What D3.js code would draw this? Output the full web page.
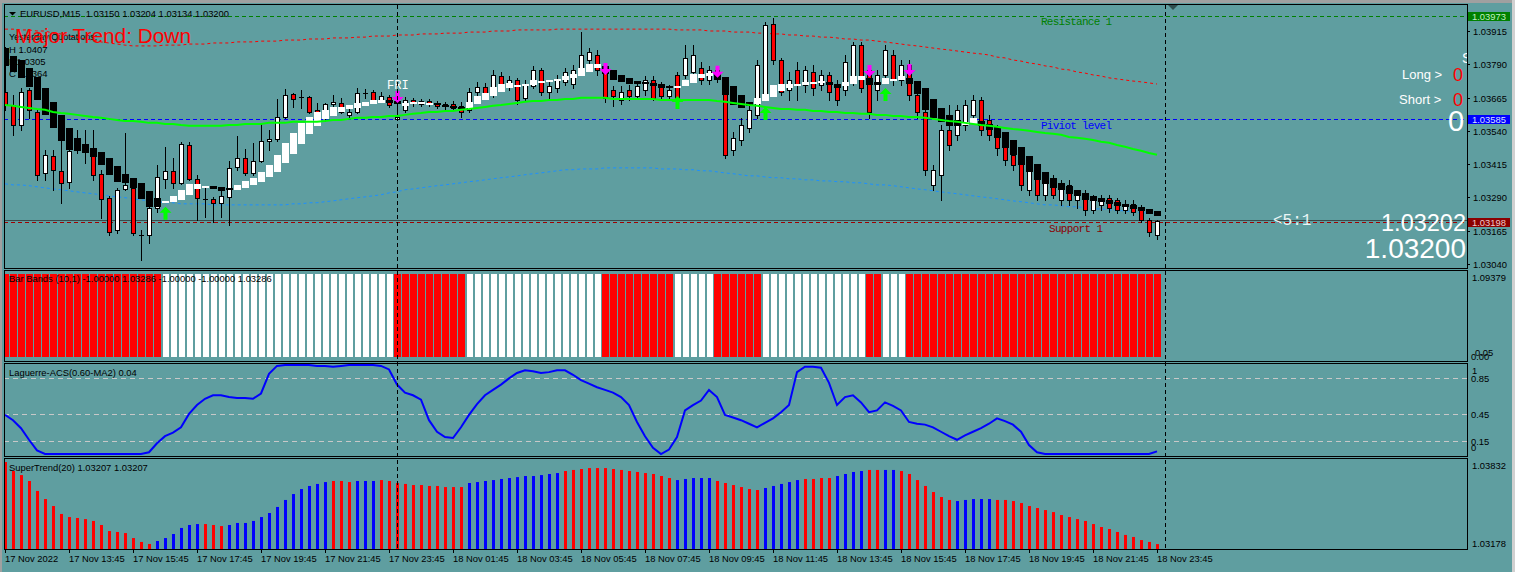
<!DOCTYPE html>
<html><head><meta charset="utf-8">
<script src="https://cdnjs.cloudflare.com/ajax/libs/d3/7.8.5/d3.min.js"></script>
<style>body{margin:0;background:#5F9EA0;overflow:hidden}svg{display:block}text{white-space:pre}</style>
</head><body><svg id="c" width="1515" height="572"></svg>
<script>
// ---------------- DATA ----------------
const timeLabels = ["17 Nov 2022","17 Nov 13:45","17 Nov 15:45","17 Nov 17:45","17 Nov 19:45","17 Nov 21:45","17 Nov 23:45","18 Nov 01:45","18 Nov 03:45","18 Nov 05:45","18 Nov 07:45","18 Nov 09:45","18 Nov 11:45","18 Nov 13:45","18 Nov 15:45","18 Nov 17:45","18 Nov 19:45","18 Nov 21:45","18 Nov 23:45"];
const timeLabelIdx = [0,8,16,24,32,40,48,56,64,72,80,88,96,104,112,120,128,136,144];
const priceTicks = [1.03915,1.03790,1.03665,1.03540,1.03415,1.03290,1.03165,1.03040];

const opens = [1.03686,1.03637,1.03562,1.03694,1.03611,1.03382,1.03446,1.03390,1.03349,1.03469,
1.03484,1.03446,1.03379,1.03289,1.03169,1.03322,1.03326,1.03150,1.03150,1.03251,
1.03360,1.03390,1.03345,1.03487,1.03360,1.03285,1.03285,1.03270,1.03292,1.03405,
1.03439,1.03382,1.03427,1.03502,1.03510,1.03592,1.03679,1.03667,1.03667,1.03619,
1.03592,1.03641,1.03645,1.03600,1.03611,1.03682,1.03686,1.03656,1.03667,1.03585,
1.03619,1.03656,1.03641,1.03652,1.03641,1.03634,1.03641,1.03634,1.03619,1.03686,
1.03705,1.03675,1.03746,1.03712,1.03731,1.03664,1.03709,1.03769,1.03686,1.03701,
1.03724,1.03716,1.03761,1.03806,1.03825,1.03769,1.03694,1.03656,1.03694,1.03671,
1.03694,1.03731,1.03709,1.03671,1.03750,1.03750,1.03761,1.03776,1.03731,1.03769,
1.03724,1.03469,1.03506,1.03551,1.03600,1.03675,1.03941,1.03806,1.03694,1.03769,
1.03712,1.03761,1.03712,1.03750,1.03712,1.03694,1.03731,1.03862,1.03769,1.03694,
1.03750,1.03825,1.03731,1.03787,1.03675,1.03611,1.03337,1.03375,1.03544,1.03525,
1.03562,1.03600,1.03656,1.03581,1.03544,1.03487,1.03450,1.03431,1.03319,1.03394,
1.03300,1.03356,1.03281,1.03337,1.03281,1.03300,1.03244,1.03262,1.03289,1.03281,
1.03244,1.03266,1.03251,1.03206,1.03150];
const highs = [1.03855,1.03675,1.03701,1.03701,1.03619,1.03469,1.03469,1.03600,1.03544,1.03544,
1.03544,1.03544,1.03394,1.03296,1.03326,1.03532,1.03364,1.03169,1.03270,1.03412,
1.03480,1.03439,1.03499,1.03499,1.03375,1.03334,1.03292,1.03319,1.03427,1.03521,
1.03472,1.03495,1.03570,1.03544,1.03660,1.03697,1.03682,1.03694,1.03671,1.03645,
1.03645,1.03675,1.03664,1.03630,1.03701,1.03697,1.03694,1.03686,1.03675,1.03630,
1.03667,1.03664,1.03660,1.03660,1.03652,1.03649,1.03652,1.03649,1.03701,1.03724,
1.03720,1.03769,1.03761,1.03746,1.03739,1.03731,1.03784,1.03776,1.03724,1.03750,
1.03776,1.03787,1.03911,1.03851,1.03844,1.03787,1.03709,1.03709,1.03712,1.03724,
1.03746,1.03746,1.03724,1.03712,1.03761,1.03862,1.03862,1.03799,1.03784,1.03784,
1.03731,1.03536,1.03589,1.03641,1.03806,1.03949,1.03964,1.03814,1.03761,1.03799,
1.03784,1.03787,1.03769,1.03761,1.03731,1.03825,1.03874,1.03874,1.03787,1.03769,
1.03862,1.03844,1.03806,1.03806,1.03694,1.03637,1.03412,1.03562,1.03637,1.03637,
1.03656,1.03675,1.03667,1.03600,1.03562,1.03506,1.03469,1.03450,1.03431,1.03412,
1.03375,1.03375,1.03356,1.03356,1.03311,1.03319,1.03300,1.03300,1.03300,1.03289,
1.03281,1.03281,1.03262,1.03214,1.03204];
const lows = [1.03619,1.03525,1.03544,1.03589,1.03356,1.03356,1.03319,1.03270,1.03326,1.03457,
1.03420,1.03356,1.03214,1.03150,1.03157,1.03319,1.03150,1.03056,1.03120,1.03236,
1.03326,1.03326,1.03341,1.03356,1.03206,1.03217,1.03199,1.03217,1.03187,1.03394,
1.03375,1.03375,1.03424,1.03469,1.03502,1.03589,1.03630,1.03626,1.03607,1.03600,
1.03577,1.03634,1.03607,1.03589,1.03607,1.03664,1.03645,1.03649,1.03630,1.03581,
1.03611,1.03634,1.03634,1.03634,1.03626,1.03619,1.03619,1.03592,1.03611,1.03671,
1.03664,1.03667,1.03694,1.03694,1.03641,1.03656,1.03701,1.03675,1.03656,1.03686,
1.03712,1.03701,1.03750,1.03791,1.03750,1.03649,1.03634,1.03641,1.03656,1.03664,
1.03675,1.03656,1.03664,1.03656,1.03645,1.03739,1.03750,1.03716,1.03716,1.03724,
1.03439,1.03450,1.03487,1.03536,1.03589,1.03656,1.03791,1.03675,1.03656,1.03656,
1.03686,1.03675,1.03694,1.03656,1.03637,1.03675,1.03712,1.03686,1.03589,1.03656,
1.03731,1.03712,1.03712,1.03656,1.03589,1.03375,1.03319,1.03281,1.03469,1.03506,
1.03544,1.03581,1.03525,1.03506,1.03450,1.03412,1.03394,1.03319,1.03300,1.03281,
1.03281,1.03289,1.03262,1.03262,1.03251,1.03225,1.03232,1.03244,1.03236,1.03232,
1.03232,1.03225,1.03199,1.03146,1.03134];
const closes = [1.03637,1.03562,1.03686,1.03619,1.03375,1.03450,1.03394,1.03345,1.03465,1.03487,
1.03461,1.03375,1.03285,1.03161,1.03319,1.03337,1.03157,1.03150,1.03251,1.03367,
1.03390,1.03345,1.03491,1.03360,1.03289,1.03285,1.03270,1.03296,1.03401,1.03439,
1.03382,1.03427,1.03502,1.03510,1.03592,1.03675,1.03660,1.03667,1.03611,1.03611,
1.03641,1.03649,1.03611,1.03611,1.03682,1.03682,1.03656,1.03671,1.03637,1.03592,
1.03656,1.03645,1.03652,1.03641,1.03634,1.03641,1.03626,1.03611,1.03686,1.03705,
1.03675,1.03750,1.03712,1.03731,1.03656,1.03712,1.03769,1.03686,1.03709,1.03731,
1.03761,1.03769,1.03825,1.03836,1.03769,1.03664,1.03671,1.03686,1.03671,1.03709,
1.03731,1.03664,1.03671,1.03694,1.03656,1.03814,1.03825,1.03731,1.03769,1.03739,
1.03450,1.03514,1.03562,1.03619,1.03787,1.03937,1.03806,1.03686,1.03731,1.03712,
1.03769,1.03701,1.03750,1.03686,1.03656,1.03799,1.03862,1.03701,1.03611,1.03750,
1.03844,1.03731,1.03787,1.03675,1.03611,1.03394,1.03394,1.03544,1.03487,1.03619,
1.03637,1.03656,1.03544,1.03525,1.03476,1.03431,1.03412,1.03337,1.03412,1.03300,
1.03356,1.03300,1.03337,1.03281,1.03300,1.03244,1.03281,1.03289,1.03251,1.03244,
1.03266,1.03236,1.03206,1.03161,1.03200];

const haOpen = [1.03851,1.03821,1.03806,1.03776,1.03742,1.03701,1.03649,1.03600,1.03551,1.03514,
1.03491,1.03476,1.03461,1.03439,1.03409,1.03379,1.03364,1.03345,1.03315,1.03289,
1.03270,1.03274,1.03281,1.03300,1.03322,1.03326,1.03334,1.03330,1.03326,1.03319,
1.03326,1.03337,1.03349,1.03367,1.03386,1.03420,1.03454,1.03491,1.03529,1.03559,
1.03585,1.03596,1.03611,1.03622,1.03626,1.03634,1.03641,1.03645,1.03656,1.03652,
1.03634,1.03641,1.03641,1.03641,1.03645,1.03637,1.03634,1.03630,1.03626,1.03641,
1.03656,1.03671,1.03686,1.03701,1.03709,1.03709,1.03712,1.03720,1.03724,1.03727,
1.03731,1.03739,1.03746,1.03761,1.03776,1.03784,1.03769,1.03750,1.03739,1.03727,
1.03724,1.03720,1.03716,1.03709,1.03705,1.03709,1.03720,1.03739,1.03746,1.03754,
1.03742,1.03709,1.03675,1.03649,1.03641,1.03652,1.03667,1.03690,1.03701,1.03709,
1.03712,1.03716,1.03720,1.03724,1.03716,1.03709,1.03716,1.03731,1.03739,1.03724,
1.03716,1.03727,1.03731,1.03739,1.03727,1.03701,1.03660,1.03626,1.03600,1.03581,
1.03562,1.03566,1.03577,1.03566,1.03555,1.03536,1.03506,1.03480,1.03446,1.03416,
1.03386,1.03364,1.03345,1.03334,1.03319,1.03307,1.03296,1.03289,1.03281,1.03274,
1.03266,1.03262,1.03255,1.03247,1.03240];
const haClose = [1.03784,1.03761,1.03739,1.03705,1.03656,1.03600,1.03551,1.03502,1.03469,1.03465,
1.03457,1.03442,1.03412,1.03375,1.03349,1.03345,1.03326,1.03285,1.03255,1.03255,
1.03277,1.03296,1.03319,1.03341,1.03341,1.03334,1.03322,1.03315,1.03322,1.03337,
1.03352,1.03364,1.03386,1.03412,1.03450,1.03495,1.03532,1.03570,1.03592,1.03611,
1.03619,1.03630,1.03630,1.03637,1.03645,1.03649,1.03656,1.03656,1.03645,1.03641,
1.03645,1.03649,1.03649,1.03645,1.03637,1.03634,1.03630,1.03622,1.03649,1.03671,
1.03682,1.03705,1.03716,1.03720,1.03712,1.03716,1.03731,1.03727,1.03731,1.03735,
1.03746,1.03754,1.03776,1.03791,1.03791,1.03754,1.03731,1.03724,1.03716,1.03716,
1.03716,1.03709,1.03701,1.03701,1.03709,1.03731,1.03754,1.03754,1.03757,1.03731,
1.03675,1.03637,1.03626,1.03634,1.03664,1.03679,1.03712,1.03716,1.03716,1.03716,
1.03724,1.03724,1.03727,1.03712,1.03701,1.03724,1.03746,1.03746,1.03712,1.03712,
1.03739,1.03735,1.03746,1.03716,1.03679,1.03619,1.03589,1.03574,1.03559,1.03559,
1.03574,1.03589,1.03559,1.03544,1.03514,1.03476,1.03450,1.03412,1.03386,1.03356,
1.03341,1.03326,1.03319,1.03304,1.03296,1.03281,1.03277,1.03274,1.03266,1.03259,
1.03255,1.03247,1.03240,1.03229,1.03221];

const maLine = [1.03637,1.03634,1.03630,1.03626,1.03622,1.03619,1.03611,1.03607,1.03604,1.03600,
1.03596,1.03592,1.03589,1.03585,1.03581,1.03577,1.03577,1.03574,1.03570,1.03570,
1.03566,1.03566,1.03562,1.03559,1.03559,1.03559,1.03559,1.03559,1.03562,1.03562,
1.03566,1.03566,1.03566,1.03570,1.03570,1.03570,1.03574,1.03574,1.03574,1.03574,
1.03577,1.03581,1.03581,1.03585,1.03589,1.03589,1.03592,1.03592,1.03596,1.03596,
1.03600,1.03604,1.03607,1.03611,1.03611,1.03615,1.03615,1.03619,1.03622,1.03626,
1.03630,1.03634,1.03637,1.03641,1.03645,1.03649,1.03652,1.03652,1.03656,1.03656,
1.03660,1.03660,1.03664,1.03664,1.03664,1.03664,1.03660,1.03660,1.03660,1.03660,
1.03660,1.03660,1.03656,1.03656,1.03656,1.03656,1.03656,1.03656,1.03656,1.03652,
1.03649,1.03645,1.03641,1.03637,1.03634,1.03630,1.03626,1.03622,1.03622,1.03619,
1.03619,1.03615,1.03615,1.03611,1.03611,1.03607,1.03607,1.03604,1.03604,1.03600,
1.03600,1.03596,1.03596,1.03592,1.03592,1.03589,1.03585,1.03581,1.03577,1.03574,
1.03570,1.03566,1.03562,1.03559,1.03555,1.03551,1.03547,1.03544,1.03540,1.03536,
1.03532,1.03529,1.03525,1.03517,1.03514,1.03510,1.03506,1.03499,1.03495,1.03487,
1.03480,1.03472,1.03465,1.03457,1.03450];

const envUpper = [1.03922,1.03922,1.03919,1.03919,1.03915,1.03915,1.03907,1.03904,1.03896,1.03892,
1.03885,1.03881,1.03874,1.03870,1.03866,1.03862,1.03859,1.03859,1.03859,1.03859,
1.03862,1.03862,1.03862,1.03866,1.03866,1.03866,1.03870,1.03870,1.03870,1.03874,
1.03874,1.03874,1.03877,1.03877,1.03877,1.03881,1.03881,1.03881,1.03885,1.03885,
1.03885,1.03889,1.03889,1.03889,1.03892,1.03892,1.03896,1.03896,1.03896,1.03900,
1.03900,1.03900,1.03904,1.03904,1.03904,1.03907,1.03907,1.03907,1.03911,1.03911,
1.03911,1.03915,1.03915,1.03915,1.03919,1.03919,1.03919,1.03919,1.03919,1.03922,
1.03922,1.03922,1.03922,1.03922,1.03922,1.03922,1.03922,1.03922,1.03922,1.03922,
1.03922,1.03922,1.03922,1.03922,1.03919,1.03919,1.03919,1.03919,1.03915,1.03915,
1.03915,1.03911,1.03911,1.03911,1.03907,1.03907,1.03904,1.03904,1.03900,1.03900,
1.03896,1.03896,1.03892,1.03892,1.03889,1.03885,1.03885,1.03881,1.03881,1.03877,
1.03874,1.03870,1.03866,1.03862,1.03859,1.03855,1.03851,1.03847,1.03844,1.03840,
1.03836,1.03832,1.03829,1.03825,1.03817,1.03814,1.03806,1.03802,1.03795,1.03791,
1.03784,1.03780,1.03772,1.03769,1.03761,1.03757,1.03750,1.03746,1.03739,1.03735,
1.03731,1.03727,1.03724,1.03720,1.03716];
const envLower = [1.03341,1.03337,1.03337,1.03334,1.03330,1.03326,1.03322,1.03319,1.03315,1.03311,
1.03307,1.03304,1.03300,1.03296,1.03292,1.03289,1.03285,1.03281,1.03277,1.03274,
1.03270,1.03270,1.03266,1.03266,1.03266,1.03266,1.03262,1.03262,1.03262,1.03262,
1.03262,1.03262,1.03262,1.03262,1.03262,1.03262,1.03266,1.03266,1.03270,1.03270,
1.03274,1.03277,1.03281,1.03285,1.03289,1.03292,1.03296,1.03300,1.03307,1.03311,
1.03319,1.03322,1.03326,1.03330,1.03334,1.03337,1.03341,1.03345,1.03349,1.03352,
1.03356,1.03360,1.03364,1.03367,1.03371,1.03375,1.03379,1.03382,1.03386,1.03390,
1.03394,1.03394,1.03397,1.03397,1.03397,1.03401,1.03401,1.03401,1.03401,1.03401,
1.03401,1.03401,1.03397,1.03397,1.03397,1.03394,1.03394,1.03390,1.03390,1.03386,
1.03382,1.03379,1.03375,1.03371,1.03371,1.03367,1.03364,1.03364,1.03360,1.03360,
1.03356,1.03356,1.03352,1.03352,1.03349,1.03349,1.03345,1.03345,1.03341,1.03337,
1.03337,1.03334,1.03330,1.03326,1.03322,1.03319,1.03315,1.03311,1.03307,1.03304,
1.03300,1.03296,1.03292,1.03289,1.03285,1.03281,1.03277,1.03274,1.03270,1.03266,
1.03262,1.03262,1.03259,1.03255,1.03255,1.03251,1.03247,1.03247,1.03244,1.03240,
1.03240,1.03236,1.03232,1.03232,1.03229];

const levelResistance = 1.03973, levelPivot = 1.03585, levelSupport = 1.03198, bidPrice = 1.03202;
const upArrowIdx = [20,84,95,110], upArrowPrice = [1.03255,1.03671,1.03630,1.03701];
const downArrowIdx = [49,75,89,108,113], downArrowPrice = [1.03645,1.03750,1.03739,1.03742,1.03746];

const bbRed = [1,1,1,1,1,1,1,1,1,1, 1,1,1,1,1,1,1,1,1,1, 0,0,0,0,0,0,0,0,0,0, 0,0,0,0,0,0,0,0,0,0,
0,0,0,0,0,0,0,0,0,1, 1,1,1,1,1,1,1,1,0,0, 0,0,0,0,0,0,0,0,0,0, 0,0,0,0,0,1,1,1,1,1,
1,1,1,1,0,0,0,0,0,1, 1,1,1,1,1,0,0,0,0,0, 0,0,0,0,0,0,0,0,1,1, 0,0,0,1,1,1,1,1,1,1,
1,1,1,1,1,1,1,1,1,1, 1,1,1,1,1,1,1,1,1,1, 1,1,1,1,1];

const lagValues = [.44,.38,.29,.16,.04,0,0,0,0,0, 0,0,0,0,0,0,0,0,.02,.12,
.2,.24,.3,.45,.55,.62,.66,.66,.64,.63, .63,.62,.68,.9,.99,1,1,1,1,.99,
.99,.98,.99,1,1,1,1,.99,.95,.78, .69,.66,.61,.38,.25,.19,.18,.3,.44,.56,
.66,.72,.78,.85,.91,.94,.93,.91,.92,.94, .94,.89,.83,.79,.75,.72,.69,.64,.55,.36,
.2,.07,0,.05,.19,.49,.55,.6,.72,.64, .44,.41,.38,.34,.3,.35,.4,.47,.55,.92,
.98,.98,.97,.8,.55,.64,.66,.58,.47,.49, .58,.54,.49,.36,.34,.33,.3,.25,.2,.16,
.21,.25,.29,.34,.4,.37,.33,.25,.1,.02, 0,0,0,0,0,0,0,0,0,0, 0,0,0,0,.03];
const lagLevels = [0.85,0.45,0.15];

const stValues = [1.03817,1.03750,1.03720,1.03676,1.03602,1.03542,1.03490,1.03431,1.03408,1.03401,
1.03393,1.03379,1.03349,1.03304,1.03297,1.03289,1.03252,1.03223,1.03208,1.03230,
1.03252,1.03282,1.03327,1.03349,1.03356,1.03356,1.03349,1.03341,1.03349,1.03364,
1.03364,1.03379,1.03408,1.03438,1.03483,1.03535,1.03579,1.03616,1.03639,1.03654,
1.03668,1.03676,1.03676,1.03668,1.03676,1.03676,1.03676,1.03683,1.03676,1.03661,
1.03654,1.03646,1.03646,1.03639,1.03639,1.03631,1.03631,1.03631,1.03661,1.03668,
1.03676,1.03683,1.03691,1.03698,1.03705,1.03713,1.03713,1.03720,1.03728,1.03735,
1.03750,1.03758,1.03765,1.03772,1.03772,1.03772,1.03765,1.03758,1.03750,1.03743,
1.03735,1.03728,1.03713,1.03698,1.03683,1.03691,1.03698,1.03698,1.03698,1.03676,
1.03661,1.03646,1.03631,1.03616,1.03609,1.03624,1.03639,1.03654,1.03668,1.03683,
1.03691,1.03691,1.03698,1.03698,1.03713,1.03728,1.03743,1.03750,1.03758,1.03758,
1.03758,1.03758,1.03750,1.03728,1.03683,1.03639,1.03594,1.03557,1.03535,1.03527,
1.03535,1.03542,1.03542,1.03542,1.03535,1.03535,1.03527,1.03512,1.03490,1.03475,
1.03460,1.03445,1.03423,1.03408,1.03393,1.03379,1.03356,1.03334,1.03319,1.03297,
1.03275,1.03260,1.03237,1.03223,1.03207];
const stUp = [0,0,0,0,0,0,0,0,0,0, 0,0,0,0,0,0,0,0,0,1, 1,1,1,1,1,0,0,0,1,1, 1,1,1,1,1,1,1,1,1,1,
1,0,0,0,1,1,1,0,0,0, 0,0,0,0,0,0,0,0,1,1, 1,1,1,1,1,1,1,1,1,1, 0,0,0,0,0,0,0,0,0,0,
0,0,0,0,1,1,1,1,1,0, 0,0,0,0,0,1,1,1,1,1, 0,0,0,0,1,1,1,1,0,0, 1,1,0,0,0,0,0,0,0,1,
1,1,1,1,0,0,0,0,0,0, 0,0,0,0,0,0,0,0,0,0, 0,0,0,0,0];

// ---------------- DRAW ----------------
const W = 1515, H = 572, L = 4, R = 1467;
const SANS = "'Liberation Sans', Arial, sans-serif";
const MONO = "'Liberation Mono', 'DejaVu Sans Mono', monospace";
const svg = d3.select("#c");
const N = opens.length;

const x = d3.scaleLinear().domain([0, 144]).range([5, 1157]);
const y = d3.scaleLinear().domain([1.03040, 1.03915]).range([264, 31]);
const yBB = d3.scaleLinear().domain([0, 1]).range([357, 274]);
const yLag = d3.scaleLinear().domain([0, 1]).range([454, 365]);
const yST = d3.scaleLinear().domain([1.03178, 1.03832]).range([548, 460]);

svg.append("rect").attr("width", W).attr("height", H).attr("fill", "#5F9EA0");
svg.append("rect").attr("width", W).attr("height", 3).attr("fill", "#A0A0A0");
svg.append("rect").attr("width", 2).attr("height", H).attr("fill", "#A0A0A0");
svg.append("rect").attr("x", W - 3).attr("width", 3).attr("height", H).attr("fill", "#D0D0D0");

const panels = {main: [4, 268], bb: [270, 361], lag: [363, 456], st: [458, 549]};
const defs = svg.append("defs");
Object.entries(panels).forEach(([k, [t, b]]) => {
  defs.append("clipPath").attr("id", "clip-" + k).append("rect")
    .attr("x", L + 1).attr("y", t + 1).attr("width", R - L - 1).attr("height", b - t - 1);
});
const gMain = svg.append("g").attr("clip-path", "url(#clip-main)");
const gBB = svg.append("g").attr("clip-path", "url(#clip-bb)");
const gLag = svg.append("g").attr("clip-path", "url(#clip-lag)");
const gST = svg.append("g").attr("clip-path", "url(#clip-st)");

function txt(g, s, xx, yy, size, fill, family, anchor) {
  return g.append("text").attr("x", xx).attr("y", yy).attr("font-size", size)
    .attr("font-family", family || SANS).attr("fill", fill || "#000")
    .attr("text-anchor", anchor || "start").text(s);
}
const cy = v => Math.round(y(v)) + 0.5;

// ---- main panel background texts ----
txt(gMain, "Yesterday Quotations:", 9, 40, 9, "#000");
txt(gMain, "H 1.0407", 9, 53, 9.5, "#000");
txt(gMain, "L 1.0305", 9, 65, 9.5, "#000");
txt(gMain, "C 1.0364", 9, 77, 9.5, "#000");

// level lines
gMain.append("line").attr("x1", L).attr("x2", R).attr("y1", cy(levelResistance)).attr("y2", cy(levelResistance))
  .attr("stroke", "#008000").attr("stroke-dasharray", "4,3");
gMain.append("line").attr("x1", L).attr("x2", R).attr("y1", cy(levelPivot)).attr("y2", cy(levelPivot))
  .attr("stroke", "#0000FF").attr("stroke-dasharray", "4,3");
gMain.append("line").attr("x1", L).attr("x2", R).attr("y1", cy(bidPrice) - 1).attr("y2", cy(bidPrice) - 1)
  .attr("stroke", "#3A4A4A");
gMain.append("line").attr("x1", L).attr("x2", R).attr("y1", cy(levelSupport)).attr("y2", cy(levelSupport))
  .attr("stroke", "#A00000").attr("stroke-dasharray", "4,3");

// vertical separators
[49, 145].forEach(i => {
  svg.append("line").attr("x1", x(i) + 0.5).attr("x2", x(i) + 0.5).attr("y1", 5).attr("y2", 548)
    .attr("stroke", "#000").attr("stroke-dasharray", "4,3");
});

// envelopes
const lineGen = (arr, sc) => d3.line().x((d, i) => x(i)).y(d => sc(d))(arr);
gMain.append("path").attr("d", lineGen(envUpper, y)).attr("fill", "none").attr("stroke", "#FF0000").attr("stroke-dasharray", "3,3");
gMain.append("path").attr("d", lineGen(envLower, y)).attr("fill", "none").attr("stroke", "#1E90FF").attr("stroke-dasharray", "3,3");

// candles
const idx = d3.range(N);
const cg = gMain.append("g");
idx.forEach(i => {
  const cx = x(i);
  cg.append("line").attr("x1", cx + 0.5).attr("x2", cx + 0.5).attr("y1", Math.round(y(highs[i]))).attr("y2", Math.round(y(lows[i])) + 1)
    .attr("stroke", "#000");
  const o = Math.round(y(opens[i])), c = Math.round(y(closes[i]));
  if (o === c) {
    cg.append("line").attr("x1", cx - 2).attr("x2", cx + 3).attr("y1", o + 0.5).attr("y2", o + 0.5).attr("stroke", "#000");
  } else {
    cg.append("rect").attr("x", cx - 1.5).attr("y", Math.min(o, c) + 0.5).attr("width", 4).attr("height", Math.abs(o - c))
      .attr("fill", closes[i] > opens[i] ? "#FFFFFF" : "#FF0000").attr("stroke", "#000");
  }
});

// heiken-ashi smoothed blocks
idx.forEach(i => {
  const a = y(haOpen[i]), b = y(haClose[i]);
  gMain.append("rect").attr("x", x(i) - 3).attr("y", Math.round(Math.min(a, b))).attr("width", 7)
    .attr("height", Math.max(2, Math.round(Math.abs(a - b))))
    .attr("fill", haClose[i] >= haOpen[i] ? "#FFFFFF" : "#000000");
});

// MA line
gMain.append("path").attr("d", lineGen(maLine, y)).attr("fill", "none").attr("stroke", "#00FF00").attr("stroke-width", 2);

// arrows
upArrowIdx.forEach((i, k) => {
  const cx = x(i) + 0.5, t = y(upArrowPrice[k]);
  gMain.append("path").attr("d", `M${cx},${t} L${cx + 6},${t + 6} L${cx + 2},${t + 6} L${cx + 2},${t + 13} L${cx - 2},${t + 13} L${cx - 2},${t + 6} L${cx - 6},${t + 6}Z`)
    .attr("fill", "#00FF00");
});
downArrowIdx.forEach((i, k) => {
  const cx = x(i) + 0.5, b = y(downArrowPrice[k]);
  gMain.append("path").attr("d", `M${cx},${b} L${cx - 6},${b - 6} L${cx - 2},${b - 6} L${cx - 2},${b - 12} L${cx + 2},${b - 12} L${cx + 2},${b - 6} L${cx + 6},${b - 6}Z`)
    .attr("fill", "#FF00FF");
});

// main texts
txt(gMain, "Major Trend: Down", 15, 43, 20, "#FF0000").attr("textLength", 176).attr("lengthAdjust", "spacingAndGlyphs");
txt(gMain, "FRI", 387, 89, 12, "#FFFFFF", MONO);
txt(gMain, "Resistance 1", 1041, 25, 11, "#008000", MONO).attr("textLength", 71);
txt(gMain, "Piviot level", 1041, 129, 11, "#0000FF", MONO).attr("textLength", 71);
txt(gMain, "Support 1", 1049, 232, 11, "#8B0000", MONO).attr("textLength", 54);
txt(gMain, "Long > ", 1402, 79, 13, "#FFFFFF");
txt(gMain, "0", 1453, 80.5, 18, "#FF0000");
txt(gMain, "Short > ", 1399, 104, 13, "#FFFFFF");
txt(gMain, "0", 1453, 106, 18, "#FF0000");
txt(gMain, "0", 1448, 131, 29, "#FFFFFF");
txt(gMain, "S", 1462, 63, 14, "#FFFFFF");
txt(gMain, "<5:1", 1273, 225, 16, "#EAF6F6", MONO);
txt(gMain, bidPrice.toFixed(5), 1466, 231, 23.5, "#FFFFFF", SANS, "end");
txt(gMain, closes[N - 1].toFixed(5), 1466, 258, 28, "#FFFFFF", SANS, "end");

// header
svg.append("path").attr("d", "M9,12 L16,12 L12.5,15.5Z").attr("fill", "#000");
txt(svg, "EURUSD,M15  " + [opens[N - 1], highs[N - 1], lows[N - 1], closes[N - 1]].map(v => v.toFixed(5)).join(" "), 20, 16.5, 9.4, "#000");
svg.append("path").attr("d", "M1168,5 L1178,5 L1173,10Z").attr("fill", "#2F4F4F");

// ---- Bar Bands ----
idx.forEach(i => {
  const red = bbRed[i] === 1;
  gBB.append("rect").attr("x", red ? x(i) - 3 : x(i) - 2).attr("y", yBB(1)).attr("width", red ? 7 : 6)
    .attr("height", yBB(0) - yBB(1)).attr("fill", red ? "#FF0000" : "#FFFFFF");
});
txt(svg, "Bar Bands (10,1) -1.00000 1.03286 -1.00000 -1.00000 1.03286", 9, 282, 9.4, "#000");

// ---- Laguerre ----
lagLevels.forEach(v => {
  gLag.append("line").attr("x1", L).attr("x2", R).attr("y1", Math.round(yLag(v)) + 0.5).attr("y2", Math.round(yLag(v)) + 0.5)
    .attr("stroke", "#C8C8C8").attr("stroke-dasharray", "5,4");
});
gLag.append("path").attr("d", lineGen(lagValues, yLag)).attr("fill", "none").attr("stroke", "#0000FF").attr("stroke-width", 2);
txt(svg, "Laguerre-ACS(0.60-MA2) 0.04", 9, 376, 9.4, "#000");

// ---- SuperTrend ----
idx.forEach(i => {
  gST.append("rect").attr("x", x(i) - 1).attr("y", yST(stValues[i])).attr("width", 3)
    .attr("height", 549 - yST(stValues[i])).attr("fill", stUp[i] ? "#0000FF" : "#FF0000");
});
txt(svg, "SuperTrend(20) 1.03207 1.03207", 9, 471, 9.4, "#000");

// panel frames
Object.values(panels).forEach(([t, b]) => {
  svg.append("rect").attr("x", L + 0.5).attr("y", t + 0.5).attr("width", R - L).attr("height", b - t)
    .attr("fill", "none").attr("stroke", "#000");
});

// ---- price axis ----
priceTicks.forEach(p => {
  const yy = Math.round(y(p)) + 0.5;
  svg.append("line").attr("x1", R).attr("x2", R + 3).attr("y1", yy).attr("y2", yy).attr("stroke", "#000");
  txt(svg, p.toFixed(5), 1473, yy + 3.5, 9.4, "#000");
});
const boxes = [[levelResistance, "#008000", "#C0F0C0"], [levelPivot, "#0000FF", "#D8E0FF"], [levelSupport, "#8B0000", "#F0C8C8"]];
boxes.forEach(([p, bg, fg]) => {
  const yy = Math.round(y(p));
  svg.append("rect").attr("x", 1468).attr("y", yy - 4).attr("width", 42).attr("height", 9).attr("fill", bg);
  txt(svg, p.toFixed(5), 1472, yy + 4, 9.4, fg);
});
// sub panel labels
txt(svg, "1.09379", 1472, 280.5, 9.4, "#000");
txt(svg, "0.05", 1475, 356, 9.4, "#000");
txt(svg, "0.00", 1471, 360, 9.4, "#000");
txt(svg, "1", 1472, 374, 9.4, "#000");
lagLevels.forEach(v => txt(svg, String(v), 1471, Math.round(yLag(v)) + 3.5, 9.4, "#000"));
txt(svg, "0", 1471, 451, 9.4, "#000");
txt(svg, "1.03832", 1472, 468.5, 9.4, "#000");
txt(svg, "1.03178", 1472, 546.5, 9.4, "#000");

// ---- time axis ----
timeLabelIdx.forEach((i, k) => {
  const xx = x(i) + 0.5;
  svg.append("line").attr("x1", xx).attr("x2", xx).attr("y1", 549).attr("y2", 553).attr("stroke", "#000");
  txt(svg, timeLabels[k], x(i), 562, 9.4, "#000");
});
</script></body></html>
